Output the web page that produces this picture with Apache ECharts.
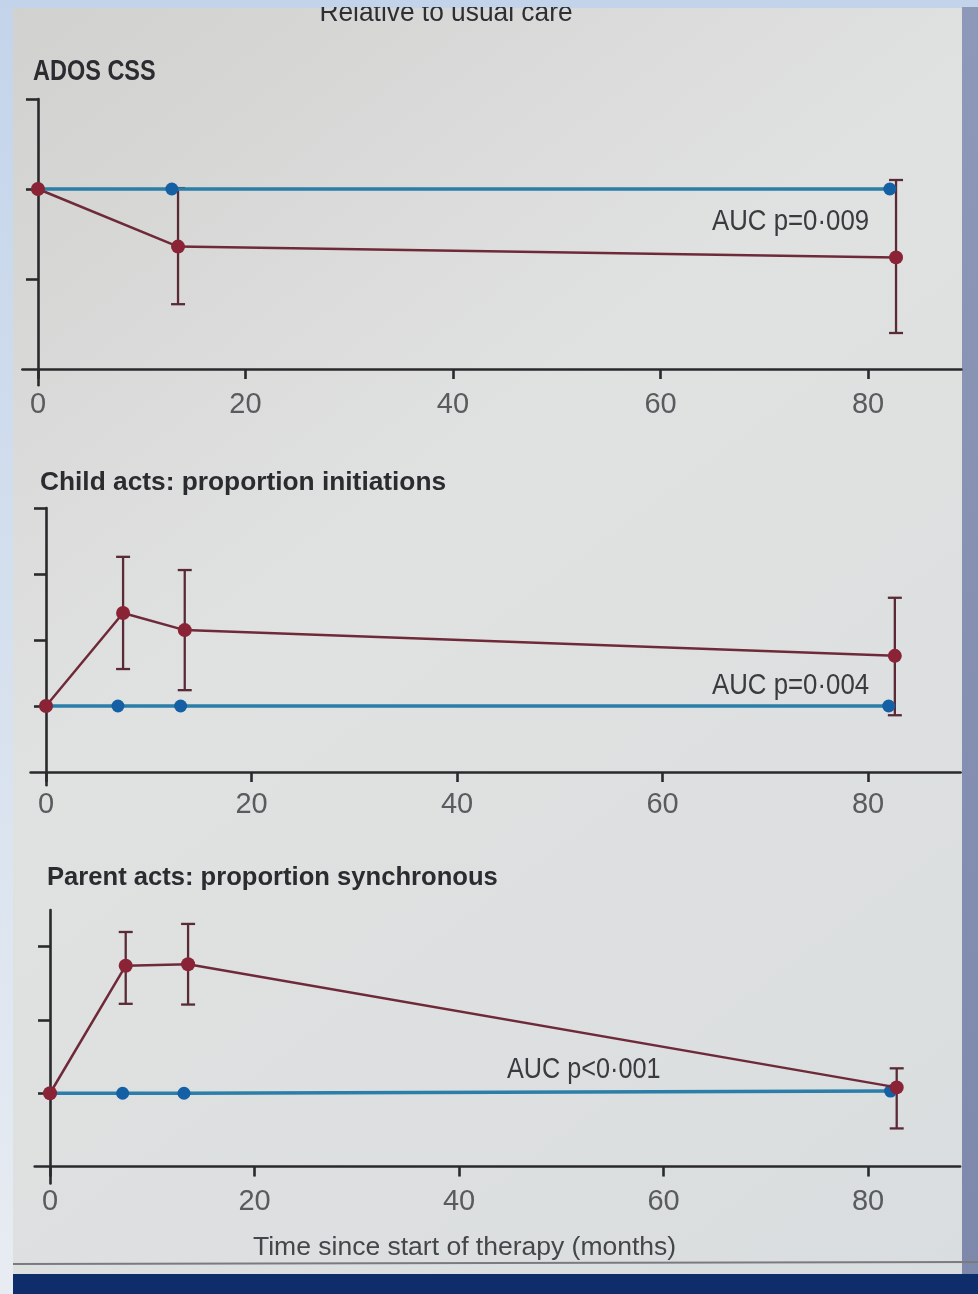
<!DOCTYPE html>
<html>
<head>
<meta charset="utf-8">
<script src="https://cdn.jsdelivr.net/npm/echarts@6/dist/echarts.min.js"></script>
<style>
html,body{margin:0;padding:0;background:#c6d5ea;}
#chart{width:978px;height:1294px;}
</style>
</head>
<body>
<div id="chart"></div>
<script>
// ---------- data ----------
const xTickValues = [0, 20, 40, 60, 80];

// Panel 1: ADOS CSS
const adosTherapyTime  = [0, 13.5, 82.7];
const adosTherapyValue = [2.0, 1.36, 1.24];
const adosTherapyLow   = [null, 0.72, 0.40];
const adosTherapyHigh  = [null, 2.01, 2.10];
const adosUsualTime    = [0, 12.9, 82.1];
const adosUsualValue   = [2.0, 2.0, 2.0];
const adosYTicks       = [1, 2, 3];

// Panel 2: Child acts: proportion initiations
const childTherapyTime  = [0, 7.5, 13.5, 82.6];
const childTherapyValue = [1.0, 2.41, 2.15, 1.76];
const childTherapyLow   = [null, 1.56, 1.24, 0.86];
const childTherapyHigh  = [null, 3.26, 3.06, 2.64];
const childUsualTime    = [0, 7.0, 13.1, 82.0];
const childUsualValue   = [1.0, 1.0, 1.0, 1.0];
const childYTicks       = [1, 2, 3, 4];

// Panel 3: Parent acts: proportion synchronous
const parentTherapyTime  = [0, 7.4, 13.5, 82.8];
const parentTherapyValue = [1.0, 2.74, 2.76, 1.08];
const parentTherapyLow   = [null, 2.22, 2.21, 0.52];
const parentTherapyHigh  = [null, 3.20, 3.31, 1.34];
const parentUsualTime    = [0, 7.1, 13.1, 82.2];
const parentUsualValue   = [1.0, 1.0, 1.0, 1.03];
const parentYTicks       = [1, 2, 3];

const panelTitles = ['ADOS CSS', 'Child acts: proportion initiations', 'Parent acts: proportion synchronous'];
const aucLabels   = ['AUC p=0·009', 'AUC p=0·004', 'AUC p<0·001'];
const headerText  = 'Relative to usual care';
const xAxisTitle  = 'Time since start of therapy (months)';

// ---------- styling / layout ----------
const FONT = '"Liberation Sans", Arial, sans-serif';
const AXIS = '#2a2a2c';
const RED_LINE = '#6f2a3a';
const RED_DOT = '#8a2336';
const BAR = '#5a2b36';
const BLUE_LINE = '#2b7ea8';
const BLUE_DOT = '#1560a4';

const panels = [
  {grid:{left:22.4, width:939, top:99, height:286.2}, ymin:-0.18, ymax:3, labelMargin:5,
   tT:adosTherapyTime, tV:adosTherapyValue, tL:adosTherapyLow, tH:adosTherapyHigh,
   uT:adosUsualTime, uV:adosUsualValue, yTicks:adosYTicks},
  {grid:{left:30.6, width:930, top:508, height:277.2}, ymin:-0.2, ymax:4, labelMargin:5,
   tT:childTherapyTime, tV:childTherapyValue, tL:childTherapyLow, tH:childTherapyHigh,
   uT:childUsualTime, uV:childUsualValue, yTicks:childYTicks},
  {grid:{left:34.7, width:925.4, top:910, height:273.4}, ymin:-0.23, ymax:3.5, labelMargin:4,
   tT:parentTherapyTime, tV:parentTherapyValue, tL:parentTherapyLow, tH:parentTherapyHigh,
   uT:parentUsualTime, uV:parentUsualValue, yTicks:parentYTicks}
];

const grids = [], xAxes = [], yAxes = [], series = [];
panels.forEach((p, i) => {
  grids.push(Object.assign({containLabel:false}, p.grid));
  xAxes.push({
    type:'value', gridIndex:i, min:-1.5, max:89,
    axisLine:{show:true, onZero:true, lineStyle:{color:AXIS, width:2.6}},
    axisTick:{show:true, customValues:xTickValues, length:10, lineStyle:{color:AXIS, width:2.6}},
    axisLabel:{show:true, customValues:xTickValues, fontSize:29, fontFamily:FONT, color:'#5a5b5e', margin:p.labelMargin},
    splitLine:{show:false}
  });
  yAxes.push({
    type:'value', gridIndex:i, min:p.ymin, max:p.ymax,
    axisLine:{show:true, onZero:true, lineStyle:{color:AXIS, width:2.6}},
    axisTick:{show:true, customValues:p.yTicks, length:12, lineStyle:{color:AXIS, width:2.6}},
    axisLabel:{show:false},
    splitLine:{show:false}
  });
  const errData = [];
  p.tT.forEach((t, k) => { if (p.tL[k] !== null) errData.push([t, p.tL[k], p.tH[k]]); });
  series.push({
    type:'custom', xAxisIndex:i, yAxisIndex:i, z:2, silent:true,
    data:errData, encode:{x:0, y:[1,2]},
    renderItem:(params, api) => {
      const lo = api.coord([api.value(0), api.value(1)]);
      const hi = api.coord([api.value(0), api.value(2)]);
      const w = 7;
      const st = {stroke:BAR, lineWidth:2.3};
      return {type:'group', children:[
        {type:'line', shape:{x1:lo[0], y1:lo[1], x2:hi[0], y2:hi[1]}, style:st},
        {type:'line', shape:{x1:lo[0]-w, y1:lo[1], x2:lo[0]+w, y2:lo[1]}, style:st},
        {type:'line', shape:{x1:hi[0]-w, y1:hi[1], x2:hi[0]+w, y2:hi[1]}, style:st}
      ]};
    }
  });
  series.push({
    type:'line', xAxisIndex:i, yAxisIndex:i, z:3, silent:true,
    data:p.uT.map((t, k) => [t, p.uV[k]]),
    symbol:'circle', symbolSize:13,
    lineStyle:{color:BLUE_LINE, width:3.5},
    itemStyle:{color:BLUE_DOT}
  });
  series.push({
    type:'line', xAxisIndex:i, yAxisIndex:i, z:4, silent:true,
    data:p.tT.map((t, k) => [t, p.tV[k]]),
    symbol:'circle', symbolSize:14,
    lineStyle:{color:RED_LINE, width:2.5},
    itemStyle:{color:RED_DOT}
  });
});

function txt(text, x, y, size, weight, color, sx, align) {
  return {type:'text', x:x, y:y, z:50, scaleX:sx || 1, scaleY:1, originX:0, originY:0,
    style:{text:text, font:weight + ' ' + size + 'px ' + FONT, fill:color,
      textAlign:align || 'left', textVerticalAlign:'middle'}};
}

const graphic = [
  {type:'rect', z:-100, shape:{x:0, y:0, width:978, height:1294},
   style:{fill:{type:'linear', x:0, y:0, x2:0, y2:1, colorStops:[{offset:0, color:'#c3d4ea'},{offset:1, color:'#e8ecf2'}]}}},
  {type:'rect', z:-90, shape:{x:13, y:8, width:952, height:1267},
   style:{fill:{type:'linear', x:0, y:0, x2:1, y2:1, colorStops:[{offset:0, color:'#d1d1cf'},{offset:0.4, color:'#e0e2e1'},{offset:1, color:'#dadddf'}]}}},
  {type:'rect', z:-80, shape:{x:962, y:0, width:16, height:1294},
   style:{fill:{type:'linear', x:0, y:0, x2:0, y2:1, colorStops:[{offset:0, color:'#8e98b8'},{offset:1, color:'#7d88ab'}]}}},
  {type:'line', z:-70, shape:{x1:13, y1:1264, x2:978, y2:1262}, style:{stroke:'#7b7b7d', lineWidth:2}},
  {type:'rect', z:-60, shape:{x:13, y:1274, width:965, height:20}, style:{fill:'#0f2d6b'}},
  txt(headerText, 446, 13, 28, '500', '#2e2f35', 0.94, 'center'),
  {type:'rect', z:60, shape:{x:0, y:0, width:978, height:7}, style:{fill:'#c3d4ea'}},
  {type:'rect', z:60, shape:{x:0, y:0, width:13, height:1294},
   style:{fill:{type:'linear', x:0, y:0, x2:0, y2:1, colorStops:[{offset:0, color:'#c3d4ea'},{offset:1, color:'#e8ecf2'}]}}},
  txt(panelTitles[0], 33, 72, 29, '600', '#2b2c30', 0.81),
  txt(panelTitles[1], 40, 483, 26.3, '600', '#2b2c30'),
  txt(panelTitles[2], 47, 878, 25.6, '600', '#2b2c30'),
  txt(aucLabels[0], 712, 222, 29, '400', '#3a3b3e', 0.89),
  txt(aucLabels[1], 712, 686, 29, '400', '#3a3b3e', 0.89),
  txt(aucLabels[2], 507, 1070, 29, '400', '#3a3b3e', 0.87),
  txt(xAxisTitle, 253, 1248, 26.5, '400', '#45464a')
];

const chart = echarts.init(document.getElementById('chart'), null, {renderer:'canvas'});
chart.setOption({
  animation:false,
  backgroundColor:'transparent',
  grid:grids, xAxis:xAxes, yAxis:yAxes, series:series, graphic:graphic
});
</script>
</body>
</html>
